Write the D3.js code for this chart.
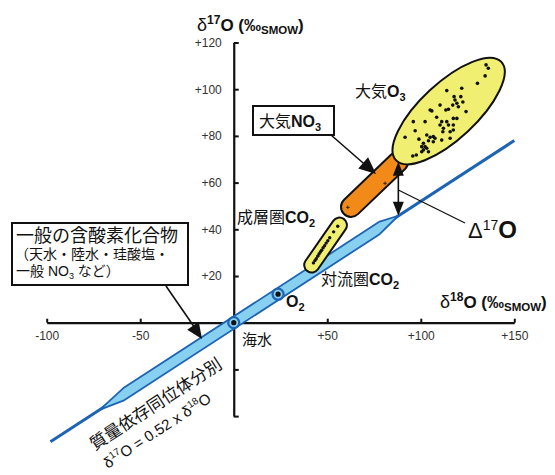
<!DOCTYPE html>
<html>
<head>
<meta charset="utf-8">
<script src="https://cdn.jsdelivr.net/npm/d3@7"></script>
<style>
  body { margin: 0; background: #fff; }
  text { font-family: "Liberation Sans", "Noto Sans CJK JP", sans-serif; }
</style>
</head>
<body>
<svg id="chart" width="555" height="475"></svg>
<script>
// ---- axis ticks ----
const xTickValues = [-100, -50, 50, 100, 150];
const xTickLabels = ["-100", "-50", "+50", "+100", "+150"];
const yTickValues = [-40, -20, 20, 40, 60, 80, 100, 120];
const yTickLabels = ["", "", "+20", "+40", "+60", "+80", "+100", "+120"];

// ---- mass-dependent fractionation line (δ18O, δ17O) ----
const massLine = [[-98, -51], [150, 78]];
// common oxygen-bearing compounds: band along the line
const bandX    = [-71.5, -59, 78, 88];
const bandMid  = [-37.2, -30.7, 40.6, 45.8];
const bandHalf = [0, 2.7, 2.7, 0];

// ---- reference materials ----
const seawater = [0, 0];
const oxygenO2 = [23.7, 12.2];

// ---- CO2 (troposphere -> stratosphere) ----
const co2Ends = [[41.7, 24.7], [56.5, 41.8]];
const co2Samples = [[42.6, 25.6], [43.4, 26.6], [44.1, 27.4], [44.9, 28.5], [45.6, 29.4], [46.3, 30.3],
  [47.0, 31.0], [47.8, 32.1], [48.6, 33.0], [49.4, 34.1], [50.3, 35.1], [51.3, 36.4], [53.4, 38.9], [55.6, 41.3]];

// ---- atmospheric nitrate ----
const nitrateEnds = [[62.7, 49.6], [87.9, 68.9]];
const nitrateSamples = [[61.0, 49.4], [80.9, 59.7], [88.8, 69.4]];

// ---- atmospheric ozone ----
const ozoneEnds = [[87.9, 70.5], [141.9, 110.8]];
const ozoneSamples = [
  [134.9, 110.4], [136.1, 109.0], [134.4, 105.7], [130.3, 102.5], [121.9, 100.4], [113.9, 99.4],
  [117.8, 96.8], [121.4, 96.8], [118.3, 95.4], [119.3, 94.0], [120.1, 92.5], [117.1, 93.2],
  [114.8, 91.4], [113.4, 91.1], [110.3, 93.2], [105.0, 91.1], [105.9, 90.7], [124.2, 90.4],
  [119.3, 87.5], [117.4, 87.5], [113.9, 86.1], [111.2, 86.1], [110.3, 84.7], [114.8, 84.7],
  [117.4, 84.7], [112.1, 83.3], [111.8, 81.8], [115.7, 81.8], [102.3, 86.1], [96.0, 86.1],
  [97.0, 82.2], [91.6, 79.4], [103.2, 80.4], [105.0, 79.4], [106.7, 79.7], [107.6, 79.0],
  [104.1, 77.9], [106.7, 77.5], [101.4, 76.8], [102.3, 75.4], [100.5, 75.4], [103.2, 74.7],
  [101.4, 74.0], [100.5, 73.2], [104.1, 73.2], [115.7, 79.0], [117.4, 82.5], [111.2, 78.2],
  [95.7, 71.4], [97.6, 71.8], [122.5, 94.5], [108.5, 88.0], [99.0, 78.6]];

// ---- Δ17O of nitrate above the fractionation line ----
const delta17X = 88;
const delta17Range = [45.8, 68.9];

// ---------------------------------------------------------------
const svg = d3.select("#chart");
const x = d3.scaleLinear().domain([-100, 150]).range([46.7, 514.3]);
const y = d3.scaleLinear().domain([-40, 120]).range([416.1, 42.5]);

const BLUE = "#1d64b5", LIGHTBLUE = "#88d0ef", YELLOW = "#f0ef72", ORANGE = "#f28a1a";

// axes crossing at the origin
const xAxis = d3.axisBottom(x).tickValues(xTickValues)
  .tickFormat((d, i) => xTickLabels[i]).tickSizeInner(-4).tickSizeOuter(0).tickPadding(9);
const yAxis = d3.axisLeft(y).tickValues(yTickValues)
  .tickFormat((d, i) => yTickLabels[i]).tickSizeInner(-5).tickSizeOuter(0).tickPadding(12);

const gx = svg.append("g").attr("transform", `translate(0,${y(0)})`).call(xAxis);
const gy = svg.append("g").attr("transform", `translate(${x(0)},0)`).call(yAxis);
[gx, gy].forEach(g => {
  g.select(".domain").attr("stroke", "#111").attr("stroke-width", 2.2);
  g.selectAll(".tick line").attr("stroke", "#111").attr("stroke-width", 2);
  g.selectAll(".tick text").attr("fill", "#333").style("font-size", "12px")
    .style("font-family", "'Liberation Sans', Arial, sans-serif");
});

// mass-dependent line
svg.append("path").datum(massLine)
  .attr("d", d3.line().x(d => x(d[0])).y(d => y(d[1])))
  .attr("stroke", BLUE).attr("stroke-width", 3).attr("fill", "none");

// band of ordinary oxygen-bearing compounds
const bandData = bandX.map((v, i) => ({ x: v, lo: bandMid[i] - bandHalf[i], hi: bandMid[i] + bandHalf[i] }));
svg.append("path").datum(bandData)
  .attr("d", d3.area().x(d => x(d.x)).y0(d => y(d.lo)).y1(d => y(d.hi)))
  .attr("fill", LIGHTBLUE).attr("stroke", BLUE).attr("stroke-width", 1.8).attr("stroke-linejoin", "round");

// capsule helper (round-capped thick segment with outline)
function capsule(ends, r, fill) {
  const g = svg.append("g");
  const seg = d3.line().x(d => x(d[0])).y(d => y(d[1]));
  g.append("path").attr("d", seg(ends)).attr("stroke", "#111").attr("stroke-width", 2 * r + 4)
    .attr("stroke-linecap", "round").attr("fill", "none");
  g.append("path").attr("d", seg(ends)).attr("stroke", fill).attr("stroke-width", 2 * r)
    .attr("stroke-linecap", "round").attr("fill", "none");
  return g;
}

// CO2 capsule with samples
capsule(co2Ends, 6.5, YELLOW);
svg.append("g").selectAll("circle").data(co2Samples).join("circle")
  .attr("cx", d => x(d[0])).attr("cy", d => y(d[1])).attr("r", 1.7).attr("fill", "#111");

// nitrate capsule
capsule(nitrateEnds, 9, ORANGE);
svg.append("g").selectAll("path").data(nitrateSamples).join("path")
  .attr("d", d => `M${x(d[0]) - 1.8},${y(d[1])}h3.6M${x(d[0])},${y(d[1]) - 1.8}v3.6`)
  .attr("stroke", "#222").attr("stroke-width", 0.9);

// ozone ellipse with samples
{
  const p1 = [x(ozoneEnds[0][0]), y(ozoneEnds[0][1])];
  const p2 = [x(ozoneEnds[1][0]), y(ozoneEnds[1][1])];
  const cx = (p1[0] + p2[0]) / 2, cy = (p1[1] + p2[1]) / 2;
  const len = Math.hypot(p2[0] - p1[0], p2[1] - p1[1]);
  const ang = Math.atan2(p2[1] - p1[1], p2[0] - p1[0]) * 180 / Math.PI;
  svg.append("ellipse").attr("cx", cx).attr("cy", cy).attr("rx", len / 2 + 3).attr("ry", 28)
    .attr("transform", `rotate(${ang},${cx},${cy})`)
    .attr("fill", YELLOW).attr("stroke", "#111").attr("stroke-width", 2);
}
svg.append("g").selectAll("circle").data(ozoneSamples).join("circle")
  .attr("cx", d => x(d[0])).attr("cy", d => y(d[1])).attr("r", 1.8).attr("fill", "#111");

// seawater and O2 markers
[seawater, oxygenO2].forEach(p => {
  svg.append("circle").attr("cx", x(p[0])).attr("cy", y(p[1])).attr("r", 5.5)
    .attr("fill", LIGHTBLUE).attr("stroke", BLUE).attr("stroke-width", 2.2);
  svg.append("circle").attr("cx", x(p[0])).attr("cy", y(p[1])).attr("r", 2.6).attr("fill", "#111");
});

// arrowhead helper
function arrowHead(tip, from, len, wid) {
  const dx = tip[0] - from[0], dy = tip[1] - from[1];
  const L = Math.hypot(dx, dy), ux = dx / L, uy = dy / L;
  const bx = tip[0] - ux * len, by = tip[1] - uy * len;
  svg.append("path")
    .attr("d", `M${tip[0]},${tip[1]}L${bx - uy * wid / 2},${by + ux * wid / 2}L${bx + uy * wid / 2},${by - ux * wid / 2}Z`)
    .attr("fill", "#111");
}

// Δ17O double arrow
{
  const ax = x(delta17X), yLo = y(delta17Range[0]), yHi = y(delta17Range[1]);
  svg.append("line").attr("x1", ax).attr("x2", ax).attr("y1", yLo - 8).attr("y2", yHi + 8)
    .attr("stroke", "#111").attr("stroke-width", 1.6);
  arrowHead([ax, yHi], [ax, yLo], 14, 11);
  arrowHead([ax, yLo], [ax, yHi], 14, 11);
  svg.append("line").attr("x1", 465).attr("y1", 223).attr("x2", ax).attr("y2", 190)
    .attr("stroke", "#111").attr("stroke-width", 1.3);
}

// text helpers
function richText(parent, xPos, yPos, parts, size, extra) {
  const t = parent.append("text").attr("x", xPos).attr("y", yPos).style("font-size", size + "px")
    .attr("fill", "#111");
  if (extra) extra(t);
  parts.forEach(p => {
    const s = t.append("tspan").text(p.t);
    if (p.b) s.style("font-weight", "bold");
    if (p.s) s.style("font-size", p.s + "px");
    if (p.dy) s.attr("dy", p.dy);
  });
  return t;
}

// axis titles
richText(svg, 197, 31, [
  { t: "δ", s: 18 }, { t: "17", s: 12, b: 1, dy: -7 }, { t: "O (‰", b: 1, dy: 7 },
  { t: "SMOW", s: 11.5, b: 1, dy: 3 }, { t: ")", b: 1, dy: -3 }], 17);
richText(svg, 440, 308, [
  { t: "δ", s: 18 }, { t: "18", s: 12, b: 1, dy: -7 }, { t: "O (‰", b: 1, dy: 7 },
  { t: "SMOW", s: 11.5, b: 1, dy: 3 }, { t: ")", b: 1, dy: -3 }], 17);

// point labels
richText(svg, 242, 345, [{ t: "海水" }], 15);
richText(svg, 286, 307, [{ t: "O", b: 1 }, { t: "2", s: 11, b: 1, dy: 4 }], 16);
richText(svg, 321, 285, [{ t: "対流圏" }, { t: "CO", b: 1 }, { t: "2", s: 11, b: 1, dy: 4 }], 16);
richText(svg, 237, 223, [{ t: "成層圏" }, { t: "CO", b: 1 }, { t: "2", s: 11, b: 1, dy: 4 }], 16);
richText(svg, 355, 97, [{ t: "大気" }, { t: "O", b: 1 }, { t: "3", s: 11, b: 1, dy: 4 }], 16);
richText(svg, 468, 238, [{ t: "Δ" }, { t: "17", s: 14, dy: -8 }, { t: "O", b: 1, dy: 8, s: 24 }], 22);

// nitrate box
svg.append("rect").attr("x", 253).attr("y", 106).attr("width", 81).attr("height", 29)
  .attr("fill", "#fff").attr("stroke", "#111").attr("stroke-width", 2);
richText(svg, 259, 127, [{ t: "大気" }, { t: "NO", b: 1 }, { t: "3", s: 11, b: 1, dy: 4 }], 16);
svg.append("line").attr("x1", 331).attr("y1", 135).attr("x2", 370).attr("y2", 169)
  .attr("stroke", "#111").attr("stroke-width", 1.6);
arrowHead([376, 174], [331, 135], 17, 15);

// common compounds box
svg.append("rect").attr("x", 12).attr("y", 223).attr("width", 176).attr("height", 62)
  .attr("fill", "#fff").attr("stroke", "#111").attr("stroke-width", 2);
richText(svg, 16, 242, [{ t: "一般の含酸素化合物" }], 18);
richText(svg, 15, 259, [{ t: "（天水・陸水・珪酸塩・" }], 14);
richText(svg, 16, 276, [{ t: "一般 NO" }, { t: "3", s: 9, dy: 3 }, { t: " など）", dy: -3 }], 14);
svg.append("line").attr("x1", 166).attr("y1", 286).attr("x2", 197).attr("y2", 331)
  .attr("stroke", "#111").attr("stroke-width", 1.6);
arrowHead([202, 339], [166, 286], 16, 14);

// rotated labels along the fractionation line
richText(svg, 0, 0, [{ t: "質量依存同位体分別" }], 17,
  t => t.attr("text-anchor", "middle").attr("transform", "translate(159,409) rotate(-33)"));
richText(svg, 0, 0, [{ t: "δ" }, { t: "17", s: 10, dy: -6 }, { t: "O = 0.52 x δ", dy: 6 },
  { t: "18", s: 10, dy: -6 }, { t: "O", dy: 6 }], 15,
  t => t.attr("text-anchor", "middle").attr("transform", "translate(160,435) rotate(-33)"));
</script>
</body>
</html>
